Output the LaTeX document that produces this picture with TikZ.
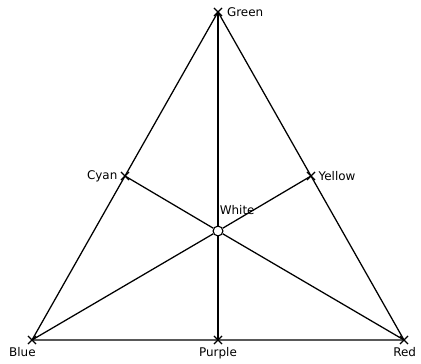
\documentclass[tikz,border=0pt]{standalone}
\usepackage{fontspec}
\setmainfont{DejaVu Sans}
\usetikzlibrary{positioning,shapes.misc}

\begin{document}
\begin{tikzpicture}[x=0.025cm, y=-0.025cm, every node/.style={font=\fontsize{8.5}{10}\selectfont}]
  \tikzset{
    cross/.style={cross out, draw, line width=0.8pt, minimum size=5pt, inner sep=0pt},
    hole/.style={circle, draw, line width=0.8pt, minimum size=7pt, inner sep=0pt},
    edge/.style={line width=0.9pt}
  }
  \useasboundingbox (0,0) rectangle (421,363);

  % Corners of the triangle
  \node[cross] (green)  at (218, 12)  {};
  \node[cross] (blue)   at (32, 340)  {};
  \node[cross] (red)    at (404, 340) {};

  % Mid points of the sides
  \node[cross] (cyan)   at (125, 176) {};
  \node[cross] (yellow) at (311, 176) {};
  \node[cross] (purple) at (218, 340) {};

  % Centre
  \node[hole] (white) at (218, 231) {};

  \draw[edge] (green.center) -- (blue.center) -- (red.center) -- cycle;
  \draw[edge] (green.center) -- (white);
  \draw[edge] (white) -- (purple.center);
  \draw[edge] (cyan.center) -- (white);
  \draw[edge] (white) -- (red.center);
  \draw[edge] (yellow.center) -- (white);
  \draw[edge] (white) -- (blue.center);

  % Labels
  \node[right=0pt of green]                 (lgreen)  {Green};
  \node[left=-1pt of cyan]                  (lcyan)   {Cyan};
  \node[right=-1pt of yellow]               (lyellow) {Yellow};
  \node[above right=5pt and -5pt of white]  (lwhite)  {White};
  \node[below left=-1pt and -9pt of blue]   (lblue)   {Blue};
  \node[below=-1pt of purple]               (lpurple) {Purple};
  \node[below left=-1pt and -15pt of red]   (lred)    {Red};
\end{tikzpicture}
\end{document}
